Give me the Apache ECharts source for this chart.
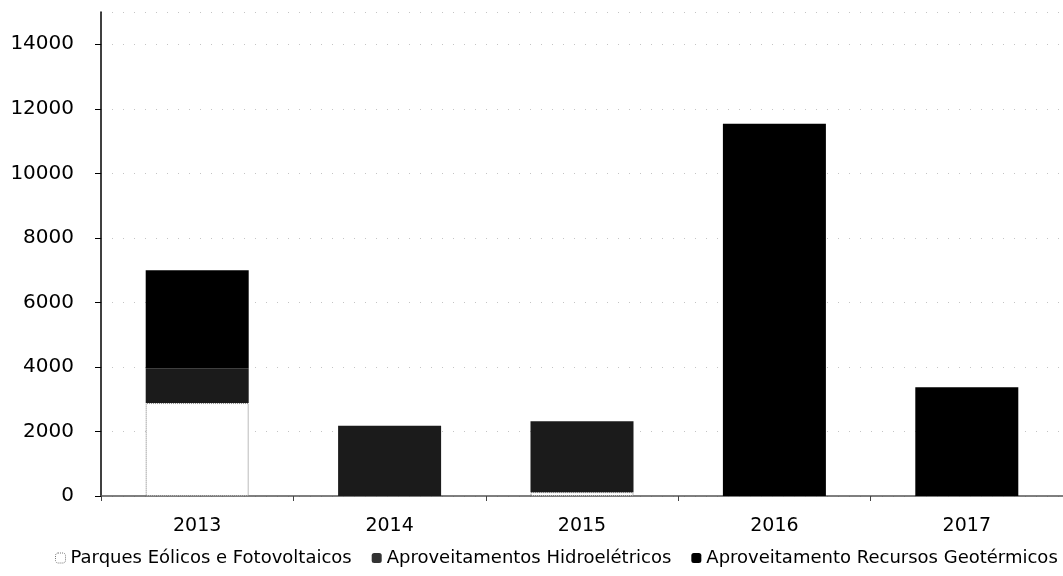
<!DOCTYPE html>
<html>
<head>
<meta charset="utf-8">
<script src="https://cdn.jsdelivr.net/npm/echarts@6/dist/echarts.min.js"></script>
<style>
  html, body { margin: 0; padding: 0; background: #fff; }
  #chart { width: 1063px; height: 576px; }
</style>
</head>
<body>
<div id="chart"></div>
<script>
// Investment by source type, per year
const years = ['2013', '2014', '2015', '2016', '2017'];
const parquesEolicos = [2880, 0, 120, 0, 0];
const hidroeletricos = [1080, 2180, 2200, 0, 0];
const geotermicos = [3040, 0, 0, 11540, 3370];
const yTicks = [0, 2000, 4000, 6000, 8000, 10000, 12000, 14000];

const FONT = 'DejaVu Sans';
const chart = echarts.init(document.getElementById('chart'), null, { renderer: 'canvas' });

const barW = 103;
const option = {
  backgroundColor: '#ffffff',
  animation: false,
  grid: { left: 101, top: 12, width: 975, bottom: 80, containLabel: false },
  legend: {
    bottom: 4,
    left: 50,
    itemWidth: 10,
    itemHeight: 10,
    itemGap: 20,
    textStyle: { fontFamily: FONT, fontSize: 18, color: '#000' },
    data: [
      { name: 'Parques Eólicos e Fotovoltaicos', itemStyle: { color: '#fff', borderColor: '#777', borderWidth: 1, borderType: 'dotted' } },
      { name: 'Aproveitamentos Hidroelétricos', itemStyle: { color: '#333' } },
      { name: 'Aproveitamento Recursos Geotérmicos', itemStyle: { color: '#000' } }
    ]
  },
  xAxis: {
    type: 'category',
    data: years,
    axisLine: { lineStyle: { color: '#555', width: 1.5 } },
    axisTick: { show: true, length: 5, lineStyle: { color: '#444' } },
    axisLabel: { fontFamily: FONT, fontSize: 19, color: '#000', margin: 21 }
  },
  yAxis: {
    type: 'value',
    min: 0,
    max: 15000,
    interval: 2000,
    axisLine: { show: true, lineStyle: { color: '#000', width: 1.5 } },
    axisTick: { show: true, length: 6, lineStyle: { color: '#000' } },
    axisLabel: {
      fontFamily: FONT, fontSize: 20, color: '#000', margin: 27,
      showMaxLabel: false,
      formatter: v => (yTicks.indexOf(v) >= 0 ? String(v) : '')
    },
    splitLine: { show: true, lineStyle: { color: '#c4c4c4', width: 1, type: [1, 10] } }
  },
  series: [
    {
      name: 'Parques Eólicos e Fotovoltaicos', type: 'bar', stack: 'total', barWidth: barW,
      data: parquesEolicos,
      itemStyle: { color: '#ffffff', borderColor: '#777', borderWidth: 1, borderType: 'dotted' }
    },
    {
      name: 'Aproveitamentos Hidroelétricos', type: 'bar', stack: 'total', barWidth: barW,
      data: hidroeletricos,
      itemStyle: { color: '#1b1b1b' }
    },
    {
      name: 'Aproveitamento Recursos Geotérmicos', type: 'bar', stack: 'total', barWidth: barW,
      data: geotermicos,
      itemStyle: { color: '#000000' }
    }
  ]
};
chart.setOption(option);
</script>
</body>
</html>
